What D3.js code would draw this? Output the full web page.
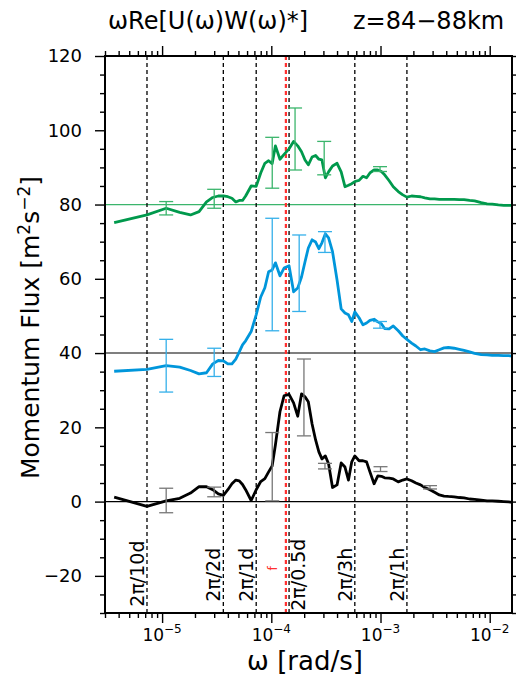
<!DOCTYPE html>
<html>
<head>
<meta charset="utf-8">
<script src="https://cdnjs.cloudflare.com/ajax/libs/d3/7.8.5/d3.min.js"></script>
<style>
  body { margin: 0; background: #fff; }
  svg text { font-family: "DejaVu Sans", sans-serif; fill: #000; }
</style>
</head>
<body>
<div id="chart"></div>
<script>
// frequencies [rad/s] of the spectral points that are drawn
var omega = [3.64e-6, 7.27e-6, 1.09e-5, 1.45e-5, 1.82e-5, 2.18e-5, 2.55e-5, 2.91e-5, 3.27e-5, 3.64e-5,
    4.00e-5, 4.36e-5, 4.73e-5, 5.09e-5, 5.45e-5, 5.82e-5, 6.54e-5, 7.27e-5,
    8.00e-5, 8.73e-5, 9.45e-5, 1.018e-4, 1.091e-4, 1.200e-4, 1.309e-4, 1.454e-4,
    1.600e-4, 1.745e-4, 1.891e-4, 2.036e-4, 2.182e-4, 2.363e-4, 2.545e-4, 2.727e-4, 2.909e-4, 3.127e-4, 3.345e-4, 3.636e-4,
    4.00e-4, 4.363e-4, 4.727e-4, 5.09e-4, 5.454e-4, 5.818e-4, 6.363e-4, 6.908e-4, 7.454e-4, 8.0e-4,
    8.73e-4, 9.45e-4, 1.018e-3, 1.091e-3, 1.2e-3, 1.309e-3, 1.454e-3, 1.6e-3, 1.745e-3,
    1.927e-3, 2.109e-3, 2.327e-3, 2.545e-3, 2.836e-3, 3.127e-3, 3.454e-3, 3.818e-3, 4.181e-3,
    4.727e-3, 5.272e-3, 5.818e-3, 6.545e-3, 7.272e-3, 8.363e-3, 9.454e-3, 1.054e-2, 1.2e-2, 1.345e-2, 1.491e-2, 1.6e-2];

// momentum flux of the three curves [m2 s-2], before they are shifted up
var greenFlux = [-4.9, -2.8, -1.0, -2.1, -2.8, -1.9, 0.7, 1.9, 2.3, 2.3,
    2.1, 1.7, 0.7, 1.1, 1.1, 2.3, 5.0, 4.9,
    8.5, 11.1, 11.8, 11.0, 15.8, 12.2, 13.5, 15.0,
    17.0, 15.8, 14.2, 12.0, 10.7, 12.8, 13.2, 12.2, 12.0, 7.2, 8.8, 10.4,
    11.1, 8.8, 4.8, 5.2, 5.6, 6.2, 6.5, 7.6, 7.2, 8.5,
    9.3, 9.3, 8.9, 8.0, 6.4, 4.8, 3.5, 2.6, 2.0,
    2.3, 2.2, 2.1, 1.8, 1.5, 1.5, 1.4, 1.4, 1.4,
    1.4, 1.3, 1.3, 1.1, 1.0, 0.5, 0.2, 0.1, -0.1, -0.2, -0.2, -0.2];
var blueFlux = [-4.9, -4.4, -3.4, -3.8, -4.7, -5.6, -5.3, -2.9, -2.0, -2.1,
    -2.9, -2.9, -1.6, 0.3, 2.2, 3.3, 5.8, 10.3,
    15.1, 17.6, 21.9, 22.4, 24.3, 20.8, 22.9, 23.5,
    16.5, 17.5, 20.5, 24.6, 28.3, 30.5, 29.9, 28.1, 29.7, 32.1, 31.0, 27.3,
    19.7, 11.9, 10.8, 10.3, 8.5, 11.1, 9.5, 7.6, 8.1, 8.8,
    9.1, 8.4, 7.9, 6.6, 6.5, 7.3, 6.0, 4.6, 3.7,
    2.7, 1.9, 0.9, 1.1, 0.6, 0.4, 0.9, 1.4, 1.5,
    1.3, 1.0, 0.7, 0.3, -0.1, -0.4, -0.5, -0.6, -0.6, -0.7, -0.7, -0.8];
var blackFlux = [1.2, -1.3, 0.2, 0.9, 2.3, 4.0, 4.0, 3.2, 2.1, 1.7,
    3.2, 4.8, 5.8, 5.6, 4.6, 3.2, 0.3, 3.2,
    5.4, 6.2, 8.0, 9.6, 15.3, 24.2, 28.5, 28.9,
    26.6, 23.0, 29.0, 28.2, 26.9, 20.9, 16.6, 13.4, 11.5, 12.3, 10.2, 3.8,
    4.5, 10.4, 9.3, 5.8, 10.7, 12.3, 11.0, 11.0, 10.7, 8.0,
    4.8, 6.9, 6.8, 6.4, 6.3, 6.1, 5.3, 5.8, 6.1,
    5.6, 5.0, 4.5, 3.8, 3.2, 2.5, 1.8, 1.5, 1.4,
    1.3, 1.1, 1.0, 0.7, 0.6, 0.4, 0.2, 0.2, 0.1, 0.0, -0.1, -0.2];

// error bars: frequency, lower and upper limit
var greenErrOmega = [1.09e-5, 3.0e-5, 1.02e-4, 1.65e-4, 3.05e-4, 9.9e-4];
var greenErrLow   = [-2.8, -1.0, 4.4, 9.3, 8.0, 8.9];
var greenErrHigh  = [0.8, 4.1, 18.1, 26.0, 17.0, 10.2];
var blueErrOmega  = [1.09e-5, 3.0e-5, 1.02e-4, 1.80e-4, 3.1e-4, 9.9e-4];
var blueErrLow    = [-10.5, -6.3, 6.0, 11.2, 27.1, 6.7];
var blueErrHigh   = [3.7, 1.3, 36.3, 31.8, 32.7, 8.5];
var blackErrOmega = [1.09e-5, 3.0e-5, 1.02e-4, 1.99e-4, 3.1e-4, 1.0e-3, 2.84e-3];
var blackErrLow   = [-3.0, 1.3, 0.2, 17.7, 8.8, 8.1, 3.4];
var blackErrHigh  = [3.6, 3.9, 18.6, 38.4, 10.3, 9.4, 4.3];

// reference periods and the inertial frequency
var periodHours  = [240, 48, 24, 12, 3, 1];
var periodLabels = ["2\u03c0/10d", "2\u03c0/2d", "2\u03c0/1d", "2\u03c0/0.5d", "2\u03c0/3h", "2\u03c0/1h"];
var inertialOmega = 1.36e-4;

var yTicks = [-20, 0, 20, 40, 60, 80, 100, 120];
var xDecades = [-5, -4, -3, -2];

var width = 516, height = 683;
var margin = { top: 56, right: 4, bottom: 70, left: 105 };

var svg = d3.select("#chart").append("svg")
    .attr("width", width)
    .attr("height", height);

var x = d3.scaleLog()
    .domain([3e-6, 1.6e-2])
    .range([margin.left, width - margin.right]);

var y = d3.scaleLinear()
    .domain([-30, 120])
    .range([height - margin.bottom, margin.top]);

var x0 = x.range()[0], x1 = x.range()[1], y0 = y.range()[0], y1 = y.range()[1];

// minor ticks
var yMinor = d3.range(-30, 121, 5).filter(function (v) { return v % 20 !== 0; });
var xMinor = [];
[-6, -5, -4, -3, -2].forEach(function (e) {
    for (var k = 2; k <= 9; k++) {
        var v = k * Math.pow(10, e);
        if (v >= x.domain()[0] && v <= x.domain()[1]) xMinor.push(v);
    }
});
var xMajor = xDecades.map(function (e) { return Math.pow(10, e); });

function styleAxis(g) {
    g.select(".domain").remove();
    g.selectAll("line").attr("stroke", "#000").attr("stroke-width", 1.4);
}

// left axis with labels, right axis plain
svg.append("g")
    .attr("transform", "translate(" + x0 + ",0)")
    .call(d3.axisLeft(y).tickValues(yTicks).tickSize(10).tickPadding(13).tickFormat(d3.format("d")))
    .call(styleAxis)
    .selectAll("text")
    .style("font-size", "18px")
    .text(function (d) { return d < 0 ? "\u2212" + Math.abs(d) : d; });
svg.append("g")
    .attr("transform", "translate(" + x0 + ",0)")
    .call(d3.axisLeft(y).tickValues(yMinor).tickSize(5).tickFormat(""))
    .call(styleAxis);
svg.append("g")
    .attr("transform", "translate(" + x1 + ",0)")
    .call(d3.axisRight(y).tickValues(yTicks).tickSize(10).tickFormat(""))
    .call(styleAxis);
svg.append("g")
    .attr("transform", "translate(" + x1 + ",0)")
    .call(d3.axisRight(y).tickValues(yMinor).tickSize(5).tickFormat(""))
    .call(styleAxis);

// bottom and top axes
[[d3.axisBottom, y0], [d3.axisTop, y1]].forEach(function (a) {
    svg.append("g")
        .attr("transform", "translate(0," + a[1] + ")")
        .call(a[0](x).tickValues(xMajor).tickSize(10).tickFormat(""))
        .call(styleAxis);
    svg.append("g")
        .attr("transform", "translate(0," + a[1] + ")")
        .call(a[0](x).tickValues(xMinor).tickSize(5).tickFormat(""))
        .call(styleAxis);
});

// decade labels 10^n
var xl = svg.append("g").selectAll("text")
    .data(xDecades)
    .enter().append("text")
    .attr("x", function (d) { return x(Math.pow(10, d)); })
    .attr("y", 641)
    .attr("text-anchor", "middle")
    .style("font-size", "17px");
xl.append("tspan").text("10");
xl.append("tspan")
    .attr("dy", -8)
    .style("font-size", "12px")
    .text(function (d) { return "\u2212" + Math.abs(d); });

// horizontal baselines of the three curves
svg.append("line")
    .attr("x1", x0).attr("x2", x1)
    .attr("y1", y(80)).attr("y2", y(80))
    .attr("stroke", "#3bb56c").attr("stroke-width", 1.3);
[40, 0].forEach(function (v) {
    svg.append("line")
        .attr("x1", x0).attr("x2", x1)
        .attr("y1", y(v)).attr("y2", y(v))
        .attr("stroke", "#000").attr("stroke-width", 1.1);
});

// dashed period lines
var periodOmega = periodHours.map(function (h) { return 2 * Math.PI / (h * 3600); });
svg.append("g").selectAll("line")
    .data(periodOmega)
    .enter().append("line")
    .attr("x1", function (d) { return x(d); })
    .attr("x2", function (d) { return x(d); })
    .attr("y1", y1).attr("y2", y0)
    .attr("stroke", "#000")
    .attr("stroke-width", 1.3)
    .attr("stroke-dasharray", "4,3");

svg.append("line")
    .attr("x1", x(inertialOmega)).attr("x2", x(inertialOmega))
    .attr("y1", y1).attr("y2", y0)
    .attr("stroke", "#ff3030")
    .attr("stroke-width", 2.2)
    .attr("stroke-dasharray", "4,3");

// period labels, written upward along the lines
var labelFoot = [-28.3, -27, -27, -29.4, -27, -27];
svg.append("g").selectAll("text")
    .data(periodOmega)
    .enter().append("text")
    .attr("transform", function (d, i) {
        var px = i === 3 ? x(d) + 16 : x(d) - 3;
        return "translate(" + px + "," + y(labelFoot[i]) + ") rotate(-90)";
    })
    .style("font-size", "19px")
    .text(function (d, i) { return periodLabels[i]; });

svg.append("text")
    .attr("transform", "translate(" + (x(inertialOmega) - 9) + "," + y(-18) + ") rotate(-90)")
    .attr("text-anchor", "middle")
    .style("font-size", "12px")
    .style("fill", "#ff3030")
    .text("f");

// curves
var series = [
    { flux: greenFlux, offset: 80, color: "#00994c", errColor: "#3bb56c", eo: greenErrOmega, lo: greenErrLow, hi: greenErrHigh },
    { flux: blueFlux, offset: 40, color: "#0096db", errColor: "#35b0ea", eo: blueErrOmega, lo: blueErrLow, hi: blueErrHigh },
    { flux: blackFlux, offset: 0, color: "#000000", errColor: "#777777", eo: blackErrOmega, lo: blackErrLow, hi: blackErrHigh }
];

series.forEach(function (s) {
    var line = d3.line()
        .x(function (d, i) { return x(omega[i]); })
        .y(function (d) { return y(d + s.offset); });

    svg.append("path")
        .datum(s.flux)
        .attr("fill", "none")
        .attr("stroke", s.color)
        .attr("stroke-width", 2.8)
        .attr("stroke-linejoin", "round")
        .attr("d", line);

    // error bars with caps
    var eb = svg.append("g")
        .attr("stroke", s.errColor)
        .attr("stroke-width", 1.3);
    s.eo.forEach(function (w, i) {
        var cx = x(w), ylo = y(s.lo[i] + s.offset), yhi = y(s.hi[i] + s.offset);
        eb.append("line").attr("x1", cx).attr("x2", cx).attr("y1", ylo).attr("y2", yhi);
        eb.append("line").attr("x1", cx - 7).attr("x2", cx + 7).attr("y1", ylo).attr("y2", ylo);
        eb.append("line").attr("x1", cx - 7).attr("x2", cx + 7).attr("y1", yhi).attr("y2", yhi);
    });
});

// frame
svg.append("rect")
    .attr("x", x0).attr("y", y1)
    .attr("width", x1 - x0).attr("height", y0 - y1)
    .attr("fill", "none")
    .attr("stroke", "#000")
    .attr("stroke-width", 2);

// titles
svg.append("text")
    .attr("x", 108).attr("y", 28.5)
    .style("font-size", "24px")
    .text("\u03c9Re[U(\u03c9)W(\u03c9)*]");
svg.append("text")
    .attr("x", 353).attr("y", 28.5)
    .style("font-size", "24px")
    .text("z=84\u221288km");

var yt = svg.append("text")
    .attr("transform", "translate(39," + ((y0 + y1) / 2 - 7) + ") rotate(-90)")
    .attr("text-anchor", "middle")
    .style("font-size", "25px");
yt.append("tspan").text("Momentum Flux [m");
yt.append("tspan").attr("dy", -9).style("font-size", "17px").text("2");
yt.append("tspan").attr("dy", 9).text("s");
yt.append("tspan").attr("dy", -9).style("font-size", "17px").text("\u22122");
yt.append("tspan").attr("dy", 9).text("]");

svg.append("text")
    .attr("x", 305).attr("y", 670)
    .attr("text-anchor", "middle")
    .style("font-size", "26px")
    .text("\u03c9 [rad/s]");
</script>
</body>
</html>
